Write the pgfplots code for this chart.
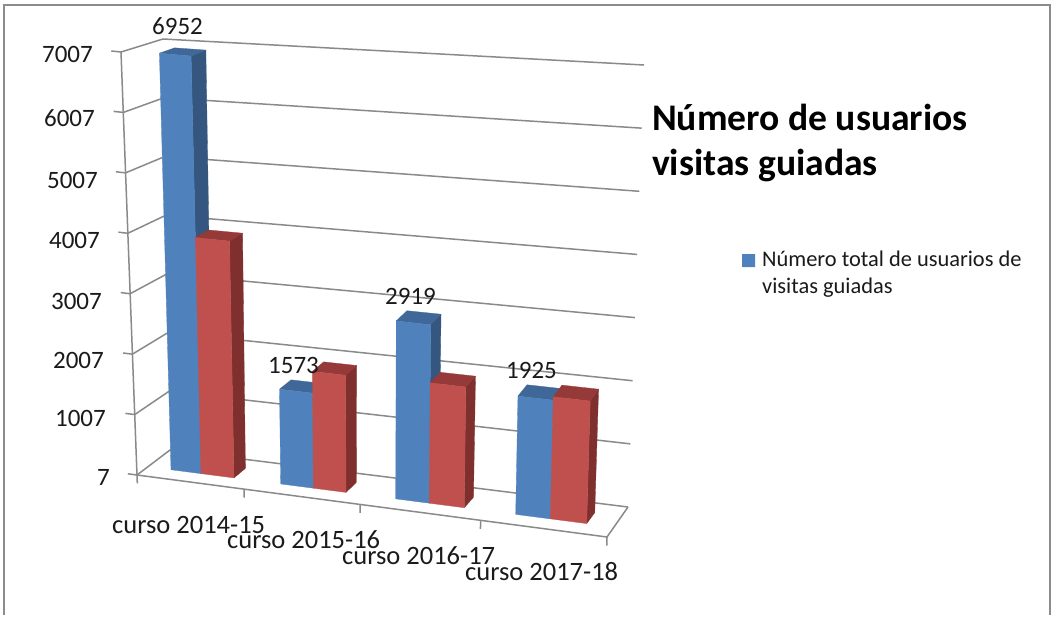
\documentclass[border=0pt]{standalone}
\usepackage{fontspec}
\setmainfont{Carlito}
\usepackage{pgfplots}
\pgfplotsset{compat=1.18}
\definecolor{bluefront}{HTML}{4F81BD}
\definecolor{blueside}{HTML}{35567F}
\definecolor{bluetop}{HTML}{3F6797}
\definecolor{redfront}{HTML}{C0504D}
\definecolor{redside}{HTML}{7F302E}
\definecolor{redtop}{HTML}{953A38}
\definecolor{gridc}{HTML}{8A8A8A}
\definecolor{framec}{HTML}{8C8C8C}
\definecolor{txt}{HTML}{1A1A1A}
% Chart box (s along categories, v depth, w value) mapped to the picture
\pgfmathdeclarefunction{tx}{3}{\pgfmathparse{(1-(#3-7)/7000)*((1-#2)*((1-#1)*137+#1*607)+#2*((1-#1)*170+#1*628))+((#3-7)/7000)*((1-#2)*((1-#1)*121+#1*620)+#2*((1-#1)*163+#1*644))}}
\pgfmathdeclarefunction{ty}{3}{\pgfmathparse{(1-(#3-7)/7000)*((1-#2)*((1-#1)*475+#1*537)+#2*((1-#1)*450+#1*507))+((#3-7)/7000)*((1-#2)*((1-#1)*52+#1*105)+#2*((1-#1)*39+#1*65))}}
\pgfkeys{/pgfplots/table/box/.style={/pgfplots/table/x expr={tx(\thisrow{s},\thisrow{v},\thisrow{w})},/pgfplots/table/y expr={ty(\thisrow{s},\thisrow{v},\thisrow{w})},/pgfplots/table/row sep=\\}}
\newcommand{\face}[2]{\addplot[fill=#1,draw=#1,line width=0.3pt] table[box] {s v w\\ #2};}
% \threedbar{colour prefix}{s0}{s1}{value}
\newcommand{\threedbar}[4]{%
  \face{#1side}{#3 0.33 7\\ #3 0.70 7\\ #3 0.70 #4\\ #3 0.33 #4\\ #3 0.33 7\\}
  \face{#1top}{#2 0.33 #4\\ #3 0.33 #4\\ #3 0.70 #4\\ #2 0.70 #4\\ #2 0.33 #4\\}
  \face{#1front}{#2 0.33 7\\ #3 0.33 7\\ #3 0.33 #4\\ #2 0.33 #4\\ #2 0.33 7\\}
}
\newcommand{\gridl}[1]{\addplot[gridc,line width=1.5pt] table[box] {s v w\\ -0.0195 0 #1\\ 0 0 #1\\ 0 1 #1\\ 1 1 #1\\};}
\newcommand{\xtick}[1]{\addplot[gridc,line width=1.5pt] table[box] {s v w\\ #1 0 7\\ #1 0 -133\\};}
\newcommand{\lab}[4][25]{\node[anchor=base west,inner sep=0pt,text=txt,font=\fontsize{#1}{#1}\selectfont] at (axis cs:#2,#3) {#4};}
\newcommand{\labr}[3]{\node[anchor=base east,inner sep=0pt,text=txt,font=\fontsize{25}{25}\selectfont] at (axis cs:#1,#2) {#3};}
\begin{document}
\begin{tikzpicture}
\begin{axis}[scale only axis,width=1052pt,height=615pt,xmin=0,xmax=1052,ymin=0,ymax=615,y dir=reverse,hide axis,clip=false]
% page and frame
\addplot[draw=none,fill=white] coordinates {(0,0)(1052,0)(1052,615)(0,615)(0,0)};
\addplot[framec,line width=2.2pt] coordinates {(4,615)(4,5)(1050,5)(1050,615)};
% gridlines, walls, floor
\gridl{7}\gridl{1007}\gridl{2007}\gridl{3007}\gridl{4007}\gridl{5007}\gridl{6007}\gridl{7007}
\addplot[gridc,line width=1.5pt] table[box] {s v w\\ 0 0 7\\ 0 0 7007\\};
\addplot[gridc,line width=1.5pt] table[box] {s v w\\ 0 0 7\\ 1 0 7\\ 1 1 7\\};
\xtick{0}\xtick{0.2277}\xtick{0.4745}\xtick{0.731}\xtick{1}
% bars: blue series, red series
\threedbar{blue}{0.0496}{0.1139}{6952}
\threedbar{red}{0.1139}{0.1848}{3934}
\threedbar{blue}{0.2850}{0.3550}{1573}
\threedbar{red}{0.3550}{0.4251}{1932}
\threedbar{blue}{0.5317}{0.6038}{2919}
\threedbar{red}{0.6038}{0.6789}{1972}
\threedbar{blue}{0.7892}{0.8635}{1925}
\threedbar{red}{0.8635}{0.9416}{1981}
% legend swatch
\addplot[fill=bluefront,draw=none] coordinates {(742,254)(755,254)(755,267)(742,267)(742,254)};
% value axis labels
\labr{93}{62}{7007}\labr{95}{126}{6007}\labr{98}{188}{5007}\labr{100}{248}{4007}
\labr{102}{309}{3007}\labr{104}{368}{2007}\labr{106}{426}{1007}\labr{110}{485}{7}
% category labels
\lab[26.5]{112}{533}{curso 2014-15}
\lab[26.5]{227}{548}{curso 2015-16}
\lab[26.5]{342}{564}{curso 2016-17}
\lab[26.5]{465}{580}{curso 2017-18}
% value labels
\lab{152}{34}{6952}\lab{268}{373}{1573}\lab{385}{304}{2919}\lab{506}{378}{1925}
% title and legend text
\node[anchor=base west,inner sep=0pt,text=black,font=\fontsize{37.6}{37.6}\selectfont\bfseries] at (axis cs:652,130) {Número de usuarios};
\node[anchor=base west,inner sep=0pt,text=black,font=\fontsize{37.6}{37.6}\selectfont\bfseries] at (axis cs:652,175) {visitas guiadas};
\lab[22.4]{762}{266}{Número total de usuarios de}
\lab[22.4]{762}{293}{visitas guiadas}
\end{axis}
\end{tikzpicture}
\end{document}
